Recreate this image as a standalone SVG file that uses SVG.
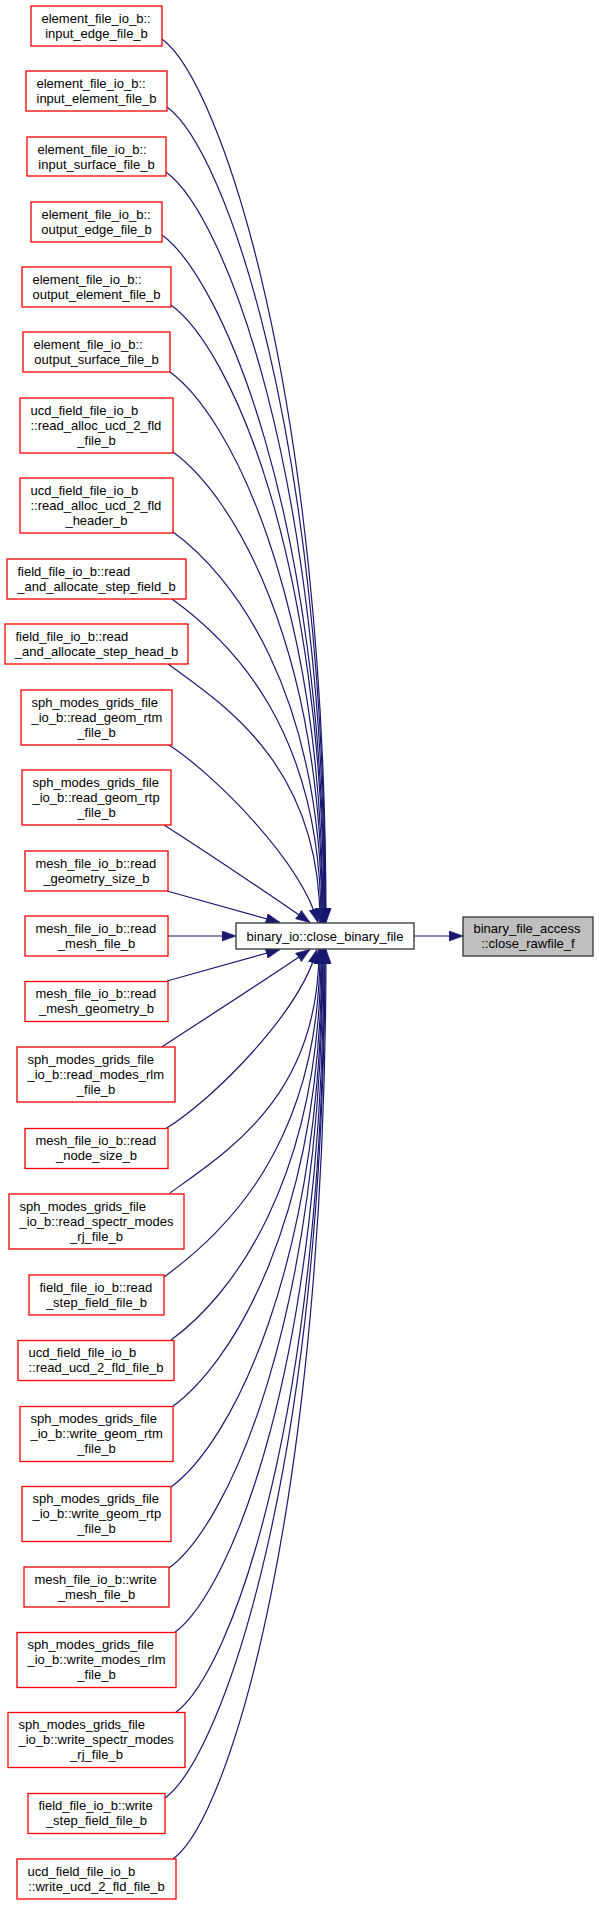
<svg xmlns="http://www.w3.org/2000/svg" width="599" height="1905" viewBox="0 0 599 1905">
<style>
text{font-family:"Liberation Sans",Arial,sans-serif;font-size:13px;fill:#000}
.l{text-anchor:start}
.c{text-anchor:middle}
.n rect{fill:#fff;stroke:#ff0000;stroke-width:1.3}
#main rect{fill:#fff;stroke:#333;stroke-width:1.3}
#target rect{fill:#bfbfbf;stroke:#333;stroke-width:1.3}
#edges path{fill:none;stroke:#191970;stroke-width:1.2;marker-end:url(#arr)}
</style>
<defs>
<marker id="arr" markerUnits="userSpaceOnUse" markerWidth="15" markerHeight="11" viewBox="0 0 14 10" refX="13.3" refY="5" orient="auto">
<path d="M0.3,0.3 L13.3,5 L0.3,9.7 z" fill="#191970" stroke="#191970" stroke-width="0.6"/>
</marker>
</defs>
<g id="edges">
<path d="M162,39 C220,81 326,392 326,922.5"/>
<path d="M167,107 C225,149 325.5,433 325.5,922.5"/>
<path d="M166,172 C224,214 325,472 325,922.5"/>
<path d="M162,235 C220,277 324.5,510 324.5,922.5"/>
<path d="M171,305 C229,347 324,552 324,922.5"/>
<path d="M170,372 C228,414 323,592 323,922.5"/>
<path d="M173,452 C231,494 322.5,640 322.5,922.5"/>
<path d="M173,532 C231,574 322,688 322,922.5"/>
<path d="M172,599 C230,641 321,728 321,922.5"/>
<path d="M168,664 C226,706 320,767 320,922.5"/>
<path d="M169,745 C215,775 300,860 318,922.5"/>
<path d="M164,825 C200,848 270,895 310,922.5"/>
<path d="M167,891 L280,922.5"/>
<path d="M168,936 L236,936"/>
<path d="M167,981 L280,949.5"/>
<path d="M161.7,1047 C200,1022 270,977 310,949.5"/>
<path d="M166,1128.5 C215,1098 300,1012 317,949.5"/>
<path d="M170,1193 C228,1151 319,1096 319,949.5"/>
<path d="M164,1277 C222,1235 320,1146 320,949.5"/>
<path d="M171,1340 C229,1298 321,1184 321,949.5"/>
<path d="M172,1407 C230,1365 322,1224 322,949.5"/>
<path d="M171,1487 C229,1445 322.5,1272 322.5,949.5"/>
<path d="M169,1568 C227,1526 323,1321 323,949.5"/>
<path d="M174,1633 C232,1591 324,1360 324,949.5"/>
<path d="M175,1713 C233,1671 324.5,1408 324.5,949.5"/>
<path d="M165,1798 C223,1756 325,1459 325,949.5"/>
<path d="M173,1859 C231,1817 326,1495 326,949.5"/>
<path d="M414,936 L463,936"/>
</g>
<g id="main"><rect x="236" y="923" width="178" height="26"/><text class="c" x="325" y="940.5">binary_io::close_binary_file</text></g>
<g id="target"><rect x="463" y="917" width="130" height="39"/><text class="l" x="473.5" y="933">binary_file_access</text><text class="c" x="528" y="948">::close_rawfile_f</text></g>
<g id="n1" class="n"><rect x="31" y="6" width="131" height="40"/><text class="l" x="41.5" y="22.5">element_file_io_b::</text><text class="c" x="96.5" y="37.5">input_edge_file_b</text></g>
<g id="n2" class="n"><rect x="26" y="71" width="141" height="40"/><text class="l" x="36.5" y="87.5">element_file_io_b::</text><text class="c" x="96.5" y="102.5">input_element_file_b</text></g>
<g id="n3" class="n"><rect x="27" y="137" width="139" height="39"/><text class="l" x="37.5" y="153.5">element_file_io_b::</text><text class="c" x="96.5" y="168.5">input_surface_file_b</text></g>
<g id="n4" class="n"><rect x="31" y="202" width="131" height="40"/><text class="l" x="41.5" y="218.5">element_file_io_b::</text><text class="c" x="96.5" y="233.5">output_edge_file_b</text></g>
<g id="n5" class="n"><rect x="22" y="267" width="149" height="40"/><text class="l" x="32.5" y="283.5">element_file_io_b::</text><text class="c" x="96.5" y="298.5">output_element_file_b</text></g>
<g id="n6" class="n"><rect x="23" y="332" width="147" height="40"/><text class="l" x="33.5" y="348.5">element_file_io_b::</text><text class="c" x="96.5" y="363.5">output_surface_file_b</text></g>
<g id="n7" class="n"><rect x="20" y="398" width="153" height="55"/><text class="l" x="30.5" y="414.5">ucd_field_file_io_b</text><text class="l" x="30.5" y="429.5">::read_alloc_ucd_2_fld</text><text class="c" x="96.5" y="444.5">_file_b</text></g>
<g id="n8" class="n"><rect x="20" y="478" width="153" height="55"/><text class="l" x="30.5" y="494.5">ucd_field_file_io_b</text><text class="l" x="30.5" y="509.5">::read_alloc_ucd_2_fld</text><text class="c" x="96.5" y="524.5">_header_b</text></g>
<g id="n9" class="n"><rect x="7" y="559" width="179" height="40"/><text class="l" x="17.5" y="575.5">field_file_io_b::read</text><text class="c" x="96.5" y="590.5">_and_allocate_step_field_b</text></g>
<g id="n10" class="n"><rect x="5" y="624" width="183" height="40"/><text class="l" x="15.5" y="640.5">field_file_io_b::read</text><text class="c" x="96.5" y="655.5">_and_allocate_step_head_b</text></g>
<g id="n11" class="n"><rect x="21" y="690" width="151" height="55"/><text class="l" x="31.5" y="706.5">sph_modes_grids_file</text><text class="l" x="31.5" y="721.5">_io_b::read_geom_rtm</text><text class="c" x="96.5" y="736.5">_file_b</text></g>
<g id="n12" class="n"><rect x="22" y="770" width="149" height="55"/><text class="l" x="32.5" y="786.5">sph_modes_grids_file</text><text class="l" x="32.5" y="801.5">_io_b::read_geom_rtp</text><text class="c" x="96.5" y="816.5">_file_b</text></g>
<g id="n13" class="n"><rect x="25" y="851" width="143" height="40"/><text class="l" x="35.5" y="867.5">mesh_file_io_b::read</text><text class="c" x="96.5" y="882.5">_geometry_size_b</text></g>
<g id="n14" class="n"><rect x="25" y="916" width="143" height="40"/><text class="l" x="35.5" y="932.5">mesh_file_io_b::read</text><text class="c" x="96.5" y="947.5">_mesh_file_b</text></g>
<g id="n15" class="n"><rect x="25" y="981.5" width="143" height="40"/><text class="l" x="35.5" y="998">mesh_file_io_b::read</text><text class="c" x="96.5" y="1013">_mesh_geometry_b</text></g>
<g id="n16" class="n"><rect x="17" y="1047" width="158" height="55"/><text class="l" x="27.5" y="1063.5">sph_modes_grids_file</text><text class="l" x="27.5" y="1078.5">_io_b::read_modes_rlm</text><text class="c" x="96" y="1093.5">_file_b</text></g>
<g id="n17" class="n"><rect x="25" y="1128.5" width="143" height="40"/><text class="l" x="35.5" y="1145">mesh_file_io_b::read</text><text class="c" x="96.5" y="1160">_node_size_b</text></g>
<g id="n18" class="n"><rect x="9" y="1194" width="175" height="55"/><text class="l" x="19.5" y="1210.5">sph_modes_grids_file</text><text class="l" x="19.5" y="1225.5">_io_b::read_spectr_modes</text><text class="c" x="96.5" y="1240.5">_rj_file_b</text></g>
<g id="n19" class="n"><rect x="29" y="1275" width="135" height="40"/><text class="l" x="39.5" y="1291.5">field_file_io_b::read</text><text class="c" x="96.5" y="1306.5">_step_field_file_b</text></g>
<g id="n20" class="n"><rect x="18" y="1340.5" width="156" height="40"/><text class="l" x="28.5" y="1357">ucd_field_file_io_b</text><text class="c" x="96" y="1372">::read_ucd_2_fld_file_b</text></g>
<g id="n21" class="n"><rect x="20" y="1406.5" width="153" height="55"/><text class="l" x="30.5" y="1423">sph_modes_grids_file</text><text class="l" x="30.5" y="1438">_io_b::write_geom_rtm</text><text class="c" x="96.5" y="1453">_file_b</text></g>
<g id="n22" class="n"><rect x="22" y="1486.5" width="149" height="55"/><text class="l" x="32.5" y="1503">sph_modes_grids_file</text><text class="l" x="32.5" y="1518">_io_b::write_geom_rtp</text><text class="c" x="96.5" y="1533">_file_b</text></g>
<g id="n23" class="n"><rect x="24" y="1567" width="145" height="40"/><text class="l" x="34.5" y="1583.5">mesh_file_io_b::write</text><text class="c" x="96.5" y="1598.5">_mesh_file_b</text></g>
<g id="n24" class="n"><rect x="17" y="1632.5" width="159" height="55"/><text class="l" x="27.5" y="1649">sph_modes_grids_file</text><text class="l" x="27.5" y="1664">_io_b::write_modes_rlm</text><text class="c" x="96.5" y="1679">_file_b</text></g>
<g id="n25" class="n"><rect x="8" y="1712.5" width="177" height="55"/><text class="l" x="18.5" y="1729">sph_modes_grids_file</text><text class="l" x="18.5" y="1744">_io_b::write_spectr_modes</text><text class="c" x="96.5" y="1759">_rj_file_b</text></g>
<g id="n26" class="n"><rect x="28" y="1793.5" width="137" height="40"/><text class="l" x="38.5" y="1810">field_file_io_b::write</text><text class="c" x="96.5" y="1825">_step_field_file_b</text></g>
<g id="n27" class="n"><rect x="17" y="1859" width="159" height="40"/><text class="l" x="27.5" y="1875.5">ucd_field_file_io_b</text><text class="c" x="96.5" y="1890.5">::write_ucd_2_fld_file_b</text></g>
</svg>
